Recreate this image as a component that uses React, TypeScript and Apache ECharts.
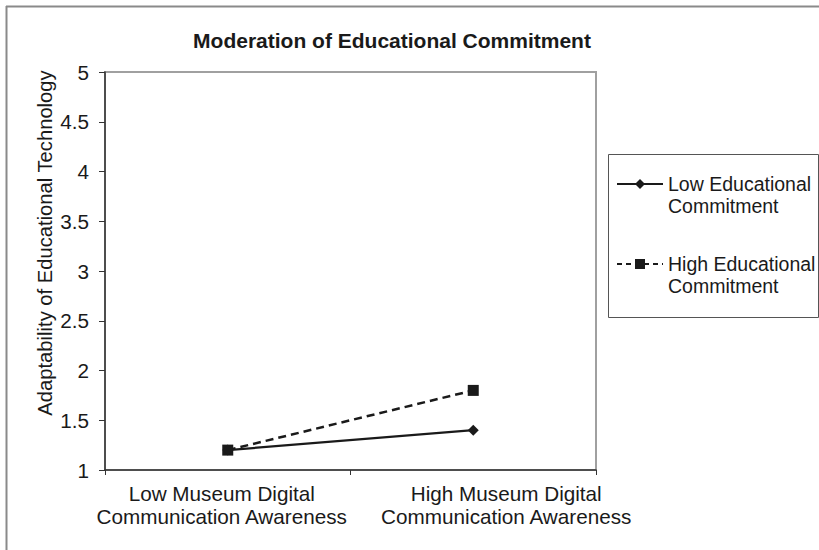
import React, { useEffect, useRef } from "react";
import * as echarts from "echarts";

const categories = [
  "Low Museum Digital\nCommunication Awareness",
  "High Museum Digital\nCommunication Awareness",
];
const lowCommitment = [1.2, 1.4];
const highCommitment = [1.2, 1.8];
const seriesNames = ["Low Educational\nCommitment", "High Educational\nCommitment"];
const chartTitle = "Moderation of Educational Commitment";
const yAxisName = "Adaptability of Educational Technology";

const FONT = "'Liberation Sans', Arial, sans-serif";
const INK = "#1a1a1a";

export default function App() {
  const ref = useRef<HTMLDivElement>(null);
  useEffect(() => {
    document.body.style.margin = "0";
    const chart = echarts.init(ref.current!, null, { renderer: "svg" });
    const labelStyle = { fontSize: 20.7, lineHeight: 23, fontFamily: FONT, color: INK };
    chart.setOption({
      animation: false,
      backgroundColor: "#ffffff",
      grid: {
        left: 105,
        right: 223,
        top: 72,
        bottom: 80,
        show: true,
        borderColor: "#a0a0a0",
        borderWidth: 2,
        backgroundColor: "transparent",
      },
      xAxis: {
        type: "category",
        data: categories,
        boundaryGap: true,
        axisLine: { show: true, lineStyle: { color: "#333", width: 1.5 } },
        axisTick: { show: true, length: 5, alignWithLabel: false, lineStyle: { color: "#333" } },
        axisLabel: {
          interval: 0,
          margin: 12,
          ...labelStyle,
          align: "center",
          formatter: (value: string, index: number) => {
            const tag = index === 0 ? "a" : "b";
            return value
              .split("\n")
              .map((line) => `{${tag}|${line}}`)
              .join("\n");
          },
          rich: {
            a: { ...labelStyle, padding: [0, 12, 0, 0] },
            b: { ...labelStyle, padding: [0, 0, 0, 66] },
          },
        },
        splitLine: { show: false },
      },
      yAxis: {
        type: "value",
        min: 1,
        max: 5,
        interval: 0.5,
        axisLine: { show: true, lineStyle: { color: "#333", width: 1.5 } },
        axisTick: { show: true, length: 6, lineStyle: { color: "#333" } },
        axisLabel: { margin: 16, fontSize: 20.7, fontFamily: FONT, color: INK },
        splitLine: { show: false },
      },
      series: [
        {
          name: seriesNames[0],
          type: "line",
          data: lowCommitment,
          symbol: "diamond",
          symbolSize: 11,
          lineStyle: { color: INK, width: 2.2, type: "solid" },
          itemStyle: { color: INK },
          z: 3,
        },
        {
          name: seriesNames[1],
          type: "line",
          data: highCommitment,
          symbol: "rect",
          symbolSize: 11,
          lineStyle: { color: INK, width: 2.5, type: [8, 5] },
          itemStyle: { color: INK },
          z: 2,
        },
      ],
      graphic: [
        { type: "line", shape: { x1: 6, y1: 6.5, x2: 819, y2: 6.5 }, style: { stroke: "#8a8a8a", lineWidth: 2 } },
        { type: "line", shape: { x1: 6.5, y1: 6, x2: 6.5, y2: 550 }, style: { stroke: "#8a8a8a", lineWidth: 2 } },
        {
          type: "text",
          x: 392,
          y: 40,
          style: {
            text: chartTitle,
            fontSize: 21,
            fontWeight: "bold",
            fontFamily: FONT,
            fill: INK,
            align: "center",
            verticalAlign: "middle",
          },
        },
        {
          type: "text",
          x: 45,
          y: 243,
          rotation: Math.PI / 2,
          style: {
            text: yAxisName,
            fontSize: 20.2,
            fontFamily: FONT,
            fill: INK,
            align: "center",
            verticalAlign: "middle",
          },
        },
        {
          type: "rect",
          shape: { x: 608.5, y: 154.5, width: 210, height: 163 },
          style: { fill: "#ffffff", stroke: "#555", lineWidth: 1 },
        },
        { type: "line", shape: { x1: 617, y1: 184, x2: 663, y2: 184 }, style: { stroke: INK, lineWidth: 2 } },
        {
          type: "polygon",
          shape: { points: [[640, 179], [645, 184], [640, 189], [635, 184]] },
          style: { fill: INK },
        },
        {
          type: "text",
          x: 668,
          y: 173,
          style: {
            text: seriesNames[0],
            fontSize: 19.5,
            lineHeight: 22,
            fontFamily: FONT,
            fill: INK,
            align: "left",
            verticalAlign: "top",
          },
        },
        {
          type: "line",
          shape: { x1: 617, y1: 264, x2: 663, y2: 264 },
          style: { stroke: INK, lineWidth: 2, lineDash: [5, 4] },
        },
        { type: "rect", shape: { x: 635, y: 259, width: 10, height: 10 }, style: { fill: INK } },
        {
          type: "text",
          x: 668,
          y: 253,
          style: {
            text: seriesNames[1],
            fontSize: 19.5,
            lineHeight: 22,
            fontFamily: FONT,
            fill: INK,
            align: "left",
            verticalAlign: "top",
          },
        },
      ],
    });
    return () => chart.dispose();
  }, []);
  return (
    <div
      ref={ref}
      style={{ position: "absolute", left: 0, top: 0, width: 819, height: 550 }}
    />
  );
}
